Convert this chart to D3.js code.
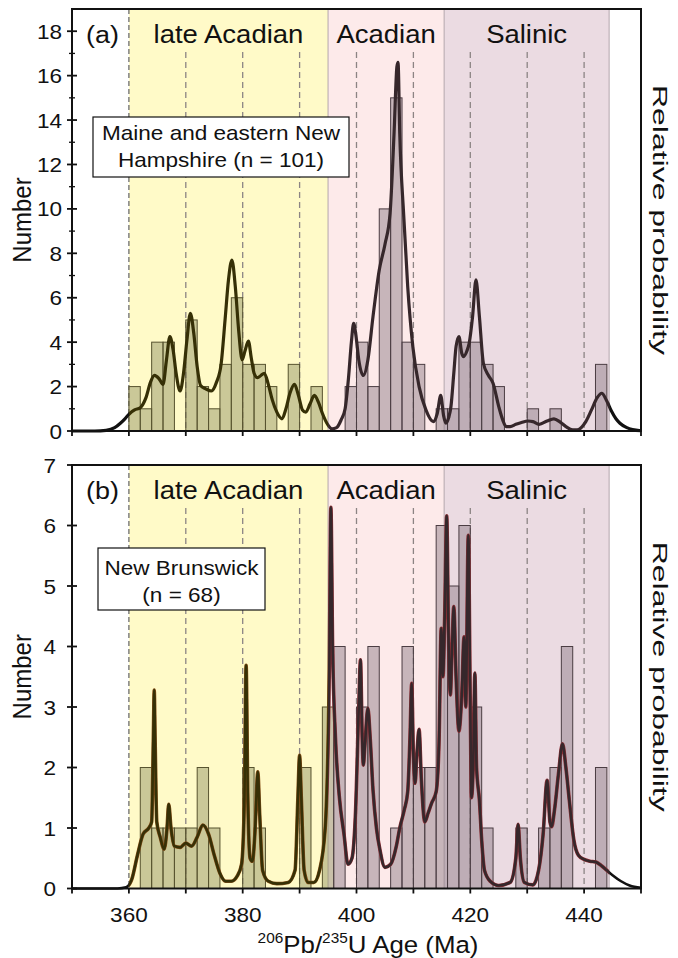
<!DOCTYPE html>
<html>
<head>
<meta charset="utf-8">
<script src="https://cdn.jsdelivr.net/npm/d3@7"></script>
<style>
  body { margin: 0; background: #fff; }
  svg { display: block; }
  text { font-family: "Liberation Sans", Arial, sans-serif; fill: #111; }
</style>
</head>
<body>
<svg id="chart" width="678" height="958"></svg>
<script>
// ---- data -------------------------------------------------------------
// histogram bins: left edge of each 2 Ma bin
const binStarts = [360,362,364,366,368,370,372,374,376,378,380,382,384,386,388,390,392,394,396,398,
                   400,402,404,406,408,410,412,414,416,418,420,422,424,426,428,430,432,434,436,438,440,442];
const binWidth = 2;
// (a) Maine and eastern New Hampshire
const countsA = [2,1,4,4,0,5,2,1,3,6,3,3,2,0,3,0,2,0,0,2,4,2,10,15,4,3,0,1,1,4,4,3,2,0,0,1,0,1,0,0,0,3];
// (b) New Brunswick
const countsB = [0,2,1,1,1,1,2,1,0,0,2,1,0,0,0,2,0,3,4,0,3,4,0,1,4,2,2,6,5,6,3,1,0,0,1,0,1,2,4,0,0,2];

// relative probability curves (age in Ma, height in histogram units)
const curveAAge = [350,354,356,357.5,358.5,359.3,360,361,362,363,363.8,364.5,365.3,366,366.6,367.2,367.8,368.3,369,369.6,
  370.2,370.8,371.4,372,372.6,373.5,374.5,375.4,376.2,376.9,377.5,378.1,378.7,379.3,379.9,380.4,381,381.5,382,382.6,
  383.2,383.8,384.5,385.2,386,386.9,387.6,388.3,389.1,389.8,390.5,391.1,391.8,392.6,393.3,394,394.8,395.7,396.5,397.3,
  398,398.6,399.1,399.5,399.9,400.4,401.2,402,402.9,404,405,405.9,406.6,407.1,407.3,407.6,408.3,409,409.9,411,
  412.2,413.5,414.2,414.8,415.3,415.7,416.2,416.6,417.1,417.5,418,418.5,418.8,419.4,419.8,420.4,421,421.6,422.3,423.2,
  424,425,425.7,426.3,427,428,429,430.1,431,432.1,433.5,434.7,435.8,436.8,438,438.8,440.3,441.3,442.3,443.1,
  443.9,444.8,445.6,446.3,447.5,448.5,450];
const curveAValue = [0,0,0.03,0.15,0.35,0.55,0.75,0.95,1.05,1.5,2.2,2.5,2.35,2.1,3.2,4.25,3.6,2.6,1.8,2.6,
  4.1,5.3,4.4,2.9,2.05,1.9,1.8,2.2,3.0,5.0,6.8,7.7,6.5,4.5,3.2,3.6,4.05,3.3,2.6,2.4,
  2.5,2.6,2.1,1.4,0.85,0.55,1.0,1.7,2.1,1.6,0.95,0.85,1.2,1.6,1.3,0.8,0.35,0.1,0.15,0.5,
  1.0,2.4,4.0,4.85,4.3,3.2,2.5,3.2,5.15,7.25,8.4,9.8,13.4,16.4,16.6,13.4,9.7,6.5,3.8,2.0,
  0.95,0.42,0.8,1.6,0.7,0.35,0.6,1.1,2.6,3.8,4.25,3.5,3.35,3.6,3.95,5.15,6.8,5.15,3.05,2.5,
  2.15,1.1,0.5,0.2,0.2,0.3,0.38,0.45,0.42,0.3,0.45,0.55,0.4,0.2,0.05,0.05,0.42,0.95,1.5,1.7,
  1.4,0.9,0.55,0.35,0.15,0.06,0.01];

const curveBAge = [350,358,359.5,360.5,361.5,362.5,363.5,364,364.3,364.45,364.6,364.9,365.5,366.2,366.7,367,367.4,368,369,370,
  371,372,373,374,375,376,377,378,379,379.8,380.3,380.6,380.9,381.3,381.7,382.2,382.65,383,383.5,384.5,
  386,388,389.2,389.7,390,390.3,390.8,391.5,392.5,393.5,394.5,395.2,395.5,395.8,396.3,397,397.8,398.5,399.2,399.8,
  400.4,400.7,401,401.2,401.5,402,402.4,402.9,403.5,404.1,405,406,407,407.6,408.4,409,409.4,409.7,410,410.3,
  410.6,411,411.4,412,412.6,413.2,414,414.5,414.9,415.2,415.5,415.85,416.2,416.5,416.8,417.1,417.5,418,418.5,418.9,
  419.2,419.65,420,420.2,420.5,420.8,421.1,421.6,422,422.5,423.5,425,427,428,428.4,428.8,429.5,431,432,432.8,
  433.5,434,434.3,434.8,435.5,436.2,436.8,437.4,438.2,439,440,441,442,443,444,445,446.5,448,450];
const curveBValue = [0,0,0.02,0.15,0.55,0.9,1.0,1.1,2.5,3.28,2.5,1.1,0.85,0.65,1.0,1.39,1.0,0.7,0.68,0.75,
  0.7,0.85,1.05,0.9,0.55,0.25,0.12,0.12,0.2,0.4,1.5,3.69,1.5,0.5,0.45,1.0,1.93,1.2,0.3,0.12,
  0.08,0.1,0.3,1.5,2.2,1.5,0.3,0.1,0.1,0.3,1.0,3.5,6.3,4.0,2.5,1.5,0.9,0.4,0.5,1.2,
  3.0,3.78,2.5,2.04,2.4,2.98,2.5,1.63,1.0,0.65,0.35,0.4,0.7,1.0,1.3,1.6,2.5,3.39,2.2,1.74,
  2.2,2.63,1.8,1.1,1.25,1.41,1.6,2.4,4.3,3.5,4.5,6.16,4.0,3.2,4.0,4.66,3.5,2.6,3.2,4.16,
  3.0,5.84,3.0,1.5,2.0,3.56,2.0,1.46,0.8,0.3,0.12,0.05,0.1,0.5,1.06,0.5,0.1,0.06,0.3,0.9,
  1.79,1.1,1.02,1.3,1.9,2.39,2.0,1.46,0.8,0.55,0.48,0.45,0.44,0.38,0.3,0.22,0.12,0.05,0.01];

// tectonic intervals
const bandNames = ["late Acadian", "Acadian", "Salinic"];
const bandFrom  = [360, 395, 415.4];
const bandTo    = [395, 415.4, 444.4];
const bandFill  = ["#fffac8", "#fdeaea", "#ebdbe2"];

// dashed reference ages
const guideAges = [370, 380, 390, 400, 410, 420, 430, 440];

// axis ticks
const xTickValues = [350,360,370,380,390,400,410,420,430,440,450];
const xTickLabels = [360,380,400,420,440];
const yTicksA = [0,2,4,6,8,10,12,14,16,18];
const yMinorA = [1,3,5,7,9,11,13,15,17];
const yTicksB = [0,1,2,3,4,5,6,7];

const boxLinesA = ["Maine and eastern New", "Hampshire (n = 101)"];
const boxLinesB = ["New Brunswick", "(n = 68)"];

// ---- drawing ----------------------------------------------------------
const svg = d3.select("#chart");
const x = d3.scaleLinear().domain([350, 450]).range([72, 641]);
const SX = 1.1; // horizontal glyph stretch of the lettering

function label(parent, px, py, str, size, anchor, extra) {
  const g = parent.append("g").attr("transform", `translate(${px},${py}) scale(${SX},1)`);
  const t = g.append("text").attr("font-size", size).attr("text-anchor", anchor || "start").text(str);
  if (extra) extra(t);
  return t;
}

const panels = [
  { id: "a", top: 9, bottom: 431, ymax: 19, counts: countsA, age: curveAAge, val: curveAValue,
    major: yTicksA, minor: yMinorA, tag: "(a)", lines: boxLinesA,
    box: [93, 117, 256, 60], textX: 221, textY: [140, 167], tickRight: 62, fringe: false },
  { id: "b", top: 465, bottom: 888.5, ymax: 7, counts: countsB, age: curveBAge, val: curveBValue,
    major: yTicksB, minor: [], tag: "(b)", lines: boxLinesB,
    box: [98, 548, 167, 62], textX: 181.5, textY: [575, 602], tickRight: 56, fringe: true }
];

const defs = svg.append("defs");

panels.forEach(p => {
  const y = d3.scaleLinear().domain([0, p.ymax]).range([p.bottom, p.top]);
  const g = svg.append("g").attr("class", "panel-" + p.id);

  // interval backgrounds
  bandNames.forEach((name, i) => {
    g.append("rect")
      .attr("x", x(bandFrom[i])).attr("y", p.top)
      .attr("width", x(bandTo[i]) - x(bandFrom[i])).attr("height", p.bottom - p.top)
      .attr("fill", bandFill[i]);
  });
  [bandTo[0], bandTo[1], bandTo[2]].forEach(a => {
    g.append("line").attr("x1", x(a)).attr("x2", x(a))
      .attr("y1", p.top).attr("y2", p.bottom)
      .attr("stroke", "#b4a6ac").attr("stroke-width", 1);
  });

  // dashed guides
  g.append("line").attr("x1", x(360)).attr("x2", x(360))
    .attr("y1", p.top).attr("y2", p.bottom)
    .attr("stroke", "#6e6e6e").attr("stroke-width", 1.3).attr("stroke-dasharray", "5,3");
  guideAges.forEach(a => {
    g.append("line").attr("x1", x(a)).attr("x2", x(a))
      .attr("y1", p.top + 43).attr("y2", p.bottom)
      .attr("stroke", "#8c8484").attr("stroke-width", 1.3).attr("stroke-dasharray", "6,4");
  });

  // histogram
  const bins = binStarts.map((s, i) => ({ s, n: p.counts[i] })).filter(d => d.n > 0);
  g.selectAll("rect.bar").data(bins).join("rect")
    .attr("class", "bar")
    .attr("x", d => x(d.s)).attr("width", d => x(d.s + binWidth) - x(d.s))
    .attr("y", d => y(d.n)).attr("height", d => y(0) - y(d.n))
    .attr("fill", d => d.s < 395 ? "rgba(150,150,104,0.5)" : "rgba(146,128,138,0.5)")
    .attr("stroke", d => d.s < 395 ? "#57532f" : "#4b3d43")
    .attr("stroke-width", 1);

  // probability curve, coloured by interval
  const pts = p.age.map((a, i) => [a, p.val[i]]);
  const line = d3.line().x(d => x(d[0])).y(d => y(d[1])).curve(d3.curveMonotoneX);
  const segs = [
    { from: 350, to: 360, col: "#111111", edge: null },
    { from: 360, to: 395, col: "#363006", edge: "#86501a" },
    { from: 395, to: 444.4, col: "#36272b", edge: "#8e3137" },
    { from: 444.4, to: 450, col: "#111111", edge: null }
  ];
  segs.forEach((s, i) => {
    const cid = `clip-${p.id}-${i}`;
    defs.append("clipPath").attr("id", cid).append("rect")
      .attr("x", x(s.from)).attr("y", p.top - 20)
      .attr("width", x(s.to) - x(s.from)).attr("height", p.bottom - p.top + 24);
    if (p.fringe && s.edge) {
      g.append("path").attr("d", line(pts)).attr("fill", "none")
        .attr("stroke", s.edge).attr("stroke-width", 3.6)
        .attr("stroke-linejoin", "round").attr("clip-path", `url(#${cid})`);
    }
    g.append("path").attr("d", line(pts)).attr("fill", "none")
      .attr("stroke", s.col).attr("stroke-width", p.fringe ? 2.6 : 3.2)
      .attr("stroke-linejoin", "round").attr("clip-path", `url(#${cid})`);
  });

  // frame
  g.append("rect").attr("x", x(350)).attr("y", p.top)
    .attr("width", x(450) - x(350)).attr("height", p.bottom - p.top)
    .attr("fill", "none").attr("stroke", "#111").attr("stroke-width", 2);

  // y ticks
  p.major.forEach(v => {
    g.append("line").attr("x1", x(350) - 5).attr("x2", x(350) + 5)
      .attr("y1", y(v)).attr("y2", y(v)).attr("stroke", "#111").attr("stroke-width", 1.8);
    label(g, p.tickRight, y(v) + 7.5, String(v), 20.5, "end");
  });
  p.minor.forEach(v => {
    g.append("line").attr("x1", x(350) - 3).attr("x2", x(350) + 3)
      .attr("y1", y(v)).attr("y2", y(v)).attr("stroke", "#111").attr("stroke-width", 1.3);
  });

  // x ticks
  xTickValues.forEach(v => {
    g.append("line").attr("x1", x(v)).attr("x2", x(v))
      .attr("y1", p.bottom).attr("y2", p.bottom + 5).attr("stroke", "#111").attr("stroke-width", 1.8);
  });

  // interval names and panel tag
  bandNames.forEach((name, i) => {
    label(g, (x(bandFrom[i]) + x(bandTo[i])) / 2, p.top + 34, name, 25, "middle");
  });
  label(g, 86, p.top + 34, p.tag, 24.5, "start");

  // sample box
  g.append("rect").attr("x", p.box[0]).attr("y", p.box[1])
    .attr("width", p.box[2]).attr("height", p.box[3])
    .attr("fill", "#fff").attr("stroke", "#111").attr("stroke-width", 1.2);
  p.lines.forEach((t, i) => label(g, p.textX, p.textY[i], t, 20.5, "middle"));

  // axis titles
  const mid = (p.top + p.bottom) / 2;
  svg.append("text")
    .attr("transform", `translate(31,${mid}) scale(${SX},1) rotate(-90)`)
    .attr("text-anchor", "middle").attr("font-size", 24).text("Number");
  svg.append("text")
    .attr("transform", `translate(653,${mid}) rotate(90)`)
    .attr("text-anchor", "middle").attr("font-size", 21)
    .attr("textLength", 270).attr("lengthAdjust", "spacingAndGlyphs")
    .text("Relative probability");
});

// x tick labels under the lower panel
xTickLabels.forEach(v => label(svg, x(v), 922, String(v), 20.5, "middle"));

// x axis title with isotope superscripts
label(svg, 368, 953, "", 23.5, "middle", t => {
  t.append("tspan").attr("font-size", 14).attr("dy", -10).text("206");
  t.append("tspan").attr("dy", 10).text("Pb/");
  t.append("tspan").attr("font-size", 14).attr("dy", -10).text("235");
  t.append("tspan").attr("dy", 10).text("U Age (Ma)");
});
</script>
</body>
</html>
